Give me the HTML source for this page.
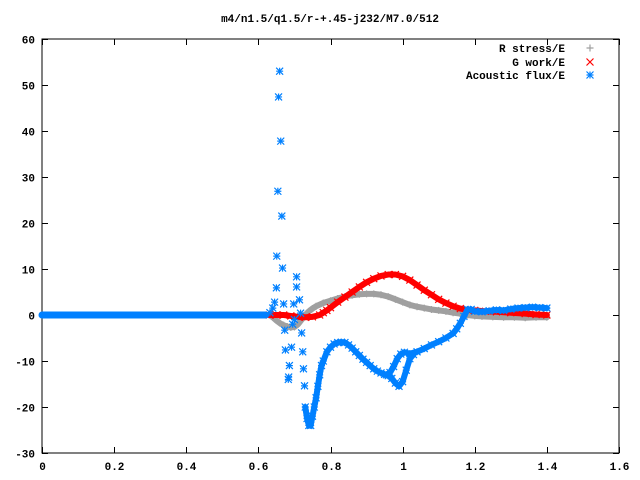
<!DOCTYPE html>
<html><head><meta charset="utf-8"><style>
body{margin:0;background:#fff}
svg{display:block;font-family:"Liberation Mono",monospace;font-size:11px;font-weight:bold}
</style></head><body>
<svg id="c" width="640" height="480">
<text x="330" y="22" text-anchor="middle">m4/n1.5/q1.5/r-+.45-j232/M7.0/512</text>
<g id="axes"></g><g id="marks"></g>
<g>
<text x="565" y="52" text-anchor="end">R stress/E</text>
<text x="565" y="66" text-anchor="end">G work/E</text>
<text x="565" y="79" text-anchor="end">Acoustic flux/E</text>
</g>
</svg>
<script>
const xTicks=[0,0.2,0.4,0.6,0.8,1,1.2,1.4,1.6];
const xTickLabels=["0","0.2","0.4","0.6","0.8","1","1.2","1.4","1.6"];
const yTicks=[-30,-20,-10,0,10,20,30,40,50,60];
const flatX=[0,0.02,0.04,0.06,0.08,0.1,0.12,0.14,0.16,0.18,0.2,0.22,0.24,0.26,0.28,0.3,0.32,0.34,0.36,0.38,0.4,0.42,0.44,0.46,0.48,0.5,0.52,0.54,0.56,0.58,0.6,0.62];
const rX=[0.63,0.64,0.65,0.66,0.67,0.68,0.69,0.70,0.71,0.72,0.73,0.74,0.75,0.76,0.78,0.80,0.82,0.84,0.86,0.88,0.90,0.92,0.94,0.96,0.98,1.00,1.02,1.04,1.06,1.08,1.10,1.12,1.14,1.16,1.18,1.20,1.22,1.25,1.28,1.31,1.34,1.37,1.40];
const rY=[0,-0.5,-1.2,-1.8,-2.2,-2.5,-2.7,-2.6,-2.0,-1.0,0,0.8,1.4,1.9,2.6,3.1,3.6,4.0,4.3,4.5,4.6,4.6,4.4,4.0,3.4,2.8,2.2,1.8,1.5,1.2,1.0,0.8,0.5,0.3,0,-0.2,-0.3,-0.4,-0.5,-0.5,-0.6,-0.5,-0.5];
const gX=[0.63,0.65,0.67,0.69,0.71,0.73,0.75,0.77,0.78,0.79,0.80,0.82,0.84,0.86,0.88,0.90,0.92,0.94,0.96,0.98,1.00,1.02,1.04,1.06,1.08,1.10,1.12,1.14,1.16,1.18,1.20,1.23,1.26,1.30,1.34,1.37,1.40];
const gY=[0,0,0,-0.2,-0.4,-0.5,-0.4,0,0.5,1,1.6,2.8,3.9,5.0,6.1,7.1,7.9,8.5,8.8,8.8,8.4,7.6,6.5,5.4,4.4,3.4,2.6,1.9,1.4,1.1,1.0,0.8,0.7,0.5,0.3,0.1,0];
const aScatterX=[0.659,0.656,0.662,0.654,0.665,0.651,0.667,0.706,0.706,0.65,0.645,0.67,0.698,0.714,0.717,0.695,0.673,0.72,0.675,0.692,0.723,0.686,0.725,0.683,0.728,0.64,0.70,0.632,0.684];
const aScatterY=[53,47.4,37.8,26.9,21.5,12.8,10.2,8.3,6.1,5.9,2.8,2.4,2.4,3.3,0.4,-2,-3.3,-3.9,-7.6,-7,-8,-11,-11.7,-14,-15.4,1.5,-1,0.5,-13.5];
const aCurveX=[0.73,0.735,0.74,0.745,0.75,0.755,0.76,0.765,0.77,0.775,0.78,0.79,0.80,0.81,0.82,0.83,0.84,0.85,0.86,0.87,0.88,0.89,0.90,0.91,0.92,0.93,0.94,0.95,0.96,0.97,0.98,0.99,1.00,1.01,1.02,1.03];
const aCurveY=[-20,-22.5,-24,-24,-22,-20,-18,-15.5,-13,-11,-10,-8,-7,-6.3,-6,-5.9,-6,-6.5,-7.2,-8,-8.8,-9.6,-10.3,-11,-11.7,-12.2,-12.6,-12.9,-13.2,-13.8,-14.8,-15.5,-14.5,-12,-9.5,-8.6];
const aLoopX=[0.955,0.965,0.975,0.985,0.995,1.005,1.02,1.04,1.06,1.08,1.10,1.12,1.14,1.15,1.16,1.17,1.18,1.19,1.20,1.22,1.24,1.26,1.28,1.30,1.32,1.34,1.36,1.38,1.40];
const aLoopY=[-13,-12.5,-11.2,-9.5,-8.5,-8.1,-8.4,-8,-7.3,-6.5,-5.8,-5.0,-4.0,-3.0,-1.8,-0.3,1.2,1.2,0.8,0.7,0.9,1.1,1.0,1.3,1.5,1.6,1.7,1.6,1.5];
const L=42,R=619,T=39,B=453,X0=0,X1=1.6,Y0=-30,Y1=60;
const sx=v=>L+(v-X0)/(X1-X0)*(R-L), sy=v=>B-(v-Y0)/(Y1-Y0)*(B-T);
const NS="http://www.w3.org/2000/svg";
function mk(t,a,p){const e=document.createElementNS(NS,t);for(const k in a)e.setAttribute(k,a[k]);p.appendChild(e);return e;}
const ax=document.getElementById('axes'),mg=document.getElementById('marks');
const fr=mk('rect',{x:L,y:T,width:R-L,height:B-T,fill:'none',stroke:'#000','stroke-width':1},ax);


xTicks.forEach((v,i)=>{const x=Math.round(sx(v))+0.5;
mk('path',{d:`M${x} ${B}v-6M${x} ${T}v6`,stroke:'#000'},ax);
const t=mk('text',{x:x,y:B+17,'text-anchor':'middle'},ax);t.textContent=xTickLabels[i];

});
yTicks.forEach(v=>{const y=Math.round(sy(v))+0.5;
mk('path',{d:`M${L} ${y}h6M${R} ${y}h-6`,stroke:'#000'},ax);
const t=mk('text',{x:L-7,y:y+4,'text-anchor':'end'},ax);t.textContent=String(v);

});
const s=3.5;
function plus(x,y,c,g){mk('path',{d:`M${x-s} ${y}h${2*s}M${x} ${y-s}v${2*s}`,stroke:c,'stroke-width':1.2},g);}
function cross(x,y,c,g){mk('path',{d:`M${x-s} ${y-s}l${2*s} ${2*s}M${x-s} ${y+s}l${2*s} ${-2*s}`,stroke:c,'stroke-width':1.2},g);}
function star(x,y,c,g){plus(x,y,c,g);cross(x,y,c,g);}
function band(xs,ys,c,w,g){mk('polyline',{points:xs.map((x,i)=>sx(x)+','+sy(ys[i])).join(' '),fill:'none',stroke:c,'stroke-width':w,'stroke-linejoin':'round','stroke-linecap':'round'},g);}
function mkg(name){const g=mk('g',{},mg);

return g;}
const zeros=flatX.map(()=>0);
const gr=mkg('r-stress-series');
band(flatX.concat(rX),zeros.concat(rY),'#a0a0a0',6,gr);
rX.forEach((x,i)=>plus(sx(x),sy(rY[i]),'#a0a0a0',gr));
const gg=mkg('g-work-series');
band(gX,gY,'#ff0000',6,gg);
gX.forEach((x,i)=>cross(sx(x),sy(gY[i]),'#ff0000',gg));
const ga=mkg('acoustic-flux-series');
band(flatX,zeros,'#0080ff',7,ga);
band(aCurveX,aCurveY,'#0080ff',6,ga);
band(aLoopX,aLoopY,'#0080ff',6,ga);
aScatterX.forEach((x,i)=>star(sx(x),sy(aScatterY[i]),'#0080ff',ga));
aCurveX.forEach((x,i)=>star(sx(x),sy(aCurveY[i]),'#0080ff',ga));
aLoopX.forEach((x,i)=>star(sx(x),sy(aLoopY[i]),'#0080ff',ga));
const lg=mkg('legend-markers');
plus(590,48,'#a0a0a0',lg);cross(590,62,'#ff0000',lg);star(590,75,'#0080ff',lg);
</script>
</body></html>
